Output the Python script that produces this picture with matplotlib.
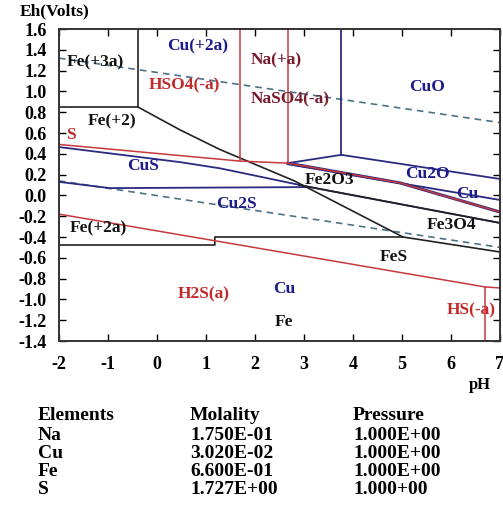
import matplotlib
matplotlib.use("Agg")
import matplotlib.pyplot as plt

plt.rcParams['font.family'] = ['Liberation Serif', 'DejaVu Serif']
plt.rcParams['font.weight'] = 'bold'

# ---- data (pH, Eh) ----
fe3_box_ph = [-2.0, -0.39, -0.39]
fe3_box_eh = [0.85, 0.85, 1.60]
fe_diag_ph = [-0.39, 0.47, 1.29, 2.80, 5.02]
fe_diag_eh = [0.85, 0.63, 0.44, 0.14, -0.40]
fe_low_ph = [-2.0, 1.18, 1.18, 5.02, 7.0]
fe_low_eh = [-0.477, -0.477, -0.40, -0.40, -0.544]
fe2o3_fe3o4_ph = [2.90, 3.12, 7.0]
fe2o3_fe3o4_eh = [0.10, 0.08, -0.265]

cus_top_ph = [-2.0, 0.47, 1.29, 3.12, 7.0]
cus_top_eh = [0.465, 0.32, 0.26, 0.08, -0.265]
cus_low_ph = [-2.0, -0.96, 3.12]
cus_low_eh = [0.13, 0.07, 0.08]
cuo_ph = [2.67, 3.76, 7.0]
cuo_eh = [0.31, 0.39, 0.158]
cuo_vert_ph = [3.76, 3.76]
cuo_vert_eh = [0.39, 1.60]
cu2o_ph = [2.67, 7.0]
cu2o_eh = [0.30, -0.044]
cu_ph = [2.67, 4.96, 7.0]
cu_eh = [0.31, 0.12, -0.16]

s_top_ph = [-2.0, 1.69, 2.67, 4.96, 7.0]
s_top_eh = [0.49, 0.33, 0.31, 0.12, -0.16]
na_left_ph = [1.69, 1.69]
na_left_eh = [0.33, 1.60]
na_right_ph = [2.67, 2.67]
na_right_eh = [0.31, 1.60]
h2s_ph = [-2.0, 6.69, 7.0]
h2s_eh = [-0.18, -0.88, -0.89]
hs_vert_ph = [6.69, 6.69]
hs_vert_eh = [-0.88, -1.40]

o2_ph = [-2.0, 7.0]
o2_eh = [1.32, 0.70]
h2_ph = [-2.0, 7.0]
h2_eh = [0.14, -0.50]

labels = [
    ("Fe(+3a)", -1.25, 1.28, "k"),
    ("Cu(+2a)", 0.82, 1.43, "navy"),
    ("Na(+a)", 2.43, 1.30, "maroon"),
    ("HSO4(-a)", 0.55, 1.06, "red"),
    ("NaSO4(-a)", 2.71, 0.92, "maroon"),
    ("CuO", 5.51, 1.04, "navy"),
    ("Fe(+2)", -0.92, 0.71, "k"),
    ("S", -1.76, 0.58, "red"),
    ("CuS", -0.29, 0.28, "navy"),
    ("Fe2O3", 3.53, 0.15, "k"),
    ("Cu2O", 5.51, 0.21, "navy"),
    ("Cu", 6.33, 0.01, "navy"),
    ("Cu2S", 1.63, -0.08, "navy"),
    ("Fe3O4", 6.02, -0.28, "k"),
    ("Fe(+2a)", -1.2, -0.32, "k"),
    ("FeS", 4.84, -0.59, "k"),
    ("H2S(a)", 0.96, -0.95, "red"),
    ("Cu", 2.59, -0.90, "navy"),
    ("Fe", 2.59, -1.22, "k"),
    ("HS(-a)", 6.41, -1.11, "red"),
]

elements = ["Na", "Cu", "Fe", "S"]
molality = ["1.750E-01", "3.020E-02", "6.600E-01", "1.727E+00"]
pressure = ["1.000E+00", "1.000E+00", "1.000E+00", "1.000+00"]

xticks = [-2, -1, 0, 1, 2, 3, 4, 5, 6, 7]
yticks = [-1.4, -1.2, -1.0, -0.8, -0.6, -0.4, -0.2, 0.0, 0.2, 0.4, 0.6, 0.8, 1.0, 1.2, 1.4, 1.6]

# ---- figure ----
W, H = 503, 521
fig = plt.figure(figsize=(W / 100, H / 100), dpi=100)
ax = fig.add_axes([59 / W, 1 - 341 / H, 441 / W, 312 / H])
ax.set_xlim(-2, 7)
ax.set_ylim(-1.4, 1.6)

black = "#222222"
blue = "#2a2a80"
red = "#c8393c"
dash = "#4f7286"

ax.plot(o2_ph, o2_eh, color=dash, lw=1.2, ls=(0, (4, 3)))
ax.plot(h2_ph, h2_eh, color=dash, lw=1.2, ls=(0, (4, 3)))

for px, py in [(cus_top_ph, cus_top_eh), (cus_low_ph, cus_low_eh), (cuo_ph, cuo_eh),
               (cuo_vert_ph, cuo_vert_eh), (cu2o_ph, cu2o_eh)]:
    ax.plot(px, py, color=blue, lw=1.3)
ax.plot(cu_ph, cu_eh, color=blue, lw=2.2)
for px, py in [(fe3_box_ph, fe3_box_eh), (fe_diag_ph, fe_diag_eh), (fe_low_ph, fe_low_eh),
               (fe2o3_fe3o4_ph, fe2o3_fe3o4_eh)]:
    ax.plot(px, py, color=black, lw=1.2)
for px, py in [(s_top_ph, s_top_eh), (na_left_ph, na_left_eh), (na_right_ph, na_right_eh),
               (h2s_ph, h2s_eh), (hs_vert_ph, hs_vert_eh)]:
    ax.plot(px, py, color=red, lw=1.1)

colmap = {"k": "#111111", "navy": "#1c1c8a", "maroon": "#7a1a2e", "red": "#c42a2a"}
for txt, x, y, c in labels:
    ax.text(x, y, txt, color=colmap[c], fontsize=12.5, fontweight='bold',
            ha='center', va='center', zorder=5)

ax.set_xticks(xticks)
ax.set_yticks(yticks)
ax.set_xticklabels([str(t) for t in xticks], fontsize=13, fontweight='bold')
ax.set_yticklabels(["%.1f" % t for t in yticks], fontsize=13, fontweight='bold')
ax.tick_params(axis='y', direction='in', length=5, width=1, right=True, pad=9)
ax.tick_params(axis='x', direction='in', length=5, width=1, top=True, pad=11)
for s in ax.spines.values():
    s.set_linewidth(1.4)
    s.set_color("#333333")

fig.text(20 / W, 1 - 11 / H, "Eh(Volts)", fontsize=12.5, fontweight='bold', va='center', ha='left')
fig.text(480 / W, 1 - 385 / H, "pH", fontsize=12, fontweight='bold', va='center', ha='center')

cols = [38 / W, 190 / W, 353 / W]
rows = [416, 435, 453, 471, 489]
fs = 14
fig.text(cols[0], 1 - rows[0] / H, "Elements", fontsize=fs, fontweight='bold', va='center')
fig.text(cols[1], 1 - rows[0] / H, "Molality", fontsize=fs, fontweight='bold', va='center')
fig.text(cols[2], 1 - rows[0] / H, "Pressure", fontsize=fs, fontweight='bold', va='center')
for i, (e, m, p) in enumerate(zip(elements, molality, pressure)):
    y = 1 - rows[i + 1] / H
    fig.text(cols[0], y, e, fontsize=fs, fontweight='bold', va='center')
    fig.text(cols[1], y, m, fontsize=fs, fontweight='bold', va='center')
    fig.text(cols[2], y, p, fontsize=fs, fontweight='bold', va='center')

fig.savefig("out.png", dpi=100)
